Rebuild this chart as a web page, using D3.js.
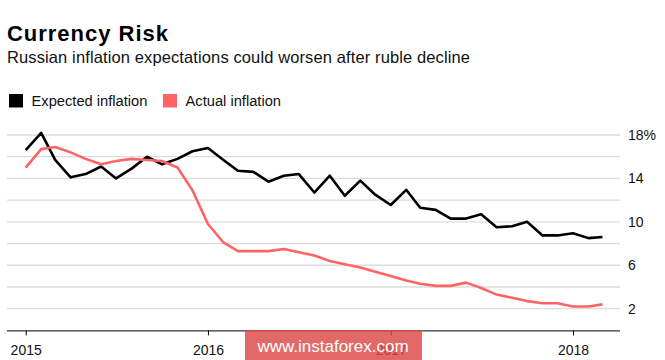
<!DOCTYPE html>
<html>
<head>
<meta charset="utf-8">
<script src="https://cdn.jsdelivr.net/npm/d3@7"></script>
<style>
  html, body { margin: 0; padding: 0; background: #fff; }
  svg { display: block; font-family: "Liberation Sans", Arial, Helvetica, sans-serif; }
</style>
</head>
<body>
<svg id="chart" width="665" height="360"></svg>
<script>
// ---- data ----
const months = d3.range(39).map(i => d3.timeMonth.offset(new Date(2015, 0, 1), i));
const expected = [16.6, 18.2, 15.7, 14.1, 14.4, 15.1, 14.0, 14.9, 16.0, 15.3, 15.8, 16.5,
                  16.8, 15.7, 14.7, 14.6, 13.7, 14.25, 14.4, 12.7, 14.25, 12.4, 13.8, 12.5,
                  11.55, 12.95, 11.3, 11.1, 10.3, 10.3, 10.7, 9.5, 9.6, 10.0, 8.75, 8.75,
                  8.95, 8.5, 8.6];
const actual = [15.0, 16.7, 16.9, 16.4, 15.8, 15.3, 15.6, 15.8, 15.7, 15.6, 15.0, 12.9,
                9.8, 8.1, 7.3, 7.3, 7.3, 7.5, 7.2, 6.9, 6.4, 6.1, 5.8, 5.4,
                5.0, 4.6, 4.3, 4.1, 4.1, 4.4, 3.9, 3.3, 3.0, 2.7, 2.5, 2.5,
                2.2, 2.2, 2.4];
const gridValues = [2, 4, 6, 8, 10, 12, 14, 16, 18];
const yLabelValues = [2, 6, 10, 14, 18];
const xTickYears = [2015, 2016, 2017, 2018];
const seriesNames = ["Expected inflation", "Actual inflation"];
const seriesColors = ["#000000", "#ff6464"];

// ---- layout ----
const svg = d3.select("#chart");
const x = d3.scaleTime().domain([new Date(2015, 0, 1), new Date(2018, 0, 1)]).range([25.7, 573]);
const y = d3.scaleLinear().domain([0, 18]).range([330.4, 135]);
const left = 7, right = 620;

// title & subtitle
svg.append("text").attr("x", 7).attr("y", 40.5)
  .attr("font-size", 22).attr("font-weight", "bold").attr("fill", "#000")
  .attr("textLength", 161).attr("lengthAdjust", "spacing")
  .text("Currency Risk");
svg.append("text").attr("x", 7).attr("y", 63.3)
  .attr("font-size", 16.5).attr("fill", "#111")
  .attr("textLength", 463).attr("lengthAdjust", "spacing")
  .text("Russian inflation expectations could worsen after ruble decline");

// legend
const legendX = [9, 163];
seriesNames.forEach((name, i) => {
  svg.append("rect").attr("x", legendX[i]).attr("y", 94).attr("width", 14).attr("height", 13.5)
    .attr("fill", seriesColors[i]);
  svg.append("text").attr("x", legendX[i] + 22.5).attr("y", 106)
    .attr("font-size", 14.7).attr("fill", "#111").text(name);
});

// gridlines
svg.append("g").selectAll("line").data(gridValues).join("line")
  .attr("x1", left).attr("x2", right)
  .attr("y1", d => y(d)).attr("y2", d => y(d))
  .attr("stroke", "#dcdcdc").attr("stroke-width", 1.3);

// y labels
svg.append("g").selectAll("text").data(yLabelValues).join("text")
  .attr("x", 628).attr("y", d => y(d)).attr("dy", "0.36em")
  .attr("font-size", 14).attr("fill", "#111")
  .text(d => d === 18 ? d + "%" : d);

// x axis
const xAxis = d3.axisBottom(x)
  .tickValues(xTickYears.map(yr => new Date(yr, 0, 1)))
  .tickFormat(d3.timeFormat("%Y"))
  .tickSize(5).tickPadding(10);
const gx = svg.append("g").attr("transform", `translate(0,${y(0)})`).call(xAxis);
gx.select(".domain").attr("d", `M${left},0.5H${right}`).attr("stroke", "#000");
gx.selectAll(".tick line").attr("stroke", "#000");
gx.selectAll(".tick text").attr("font-size", 14).attr("fill", "#111")
  .attr("font-family", "'Liberation Sans', Arial, sans-serif");

// lines
const line = d3.line().x((d, i) => x(months[i])).y(d => y(d));
[expected, actual].forEach((vals, i) => {
  svg.append("path").datum(vals)
    .attr("fill", "none").attr("stroke", seriesColors[i])
    .attr("stroke-width", 2.6).attr("stroke-linejoin", "round").attr("stroke-linecap", "butt")
    .attr("d", line);
});

// watermark (semi-transparent, lies over the 2017 label as in the reference)
svg.append("rect").attr("x", 245).attr("y", 330).attr("width", 177).attr("height", 32)
  .attr("fill", "rgb(221,72,72)").attr("fill-opacity", 0.82);
svg.append("text").attr("x", 333).attr("y", 352).attr("text-anchor", "middle")
  .attr("font-size", 17).attr("fill", "#fff").text("www.instaforex.com");
</script>
</body>
</html>
